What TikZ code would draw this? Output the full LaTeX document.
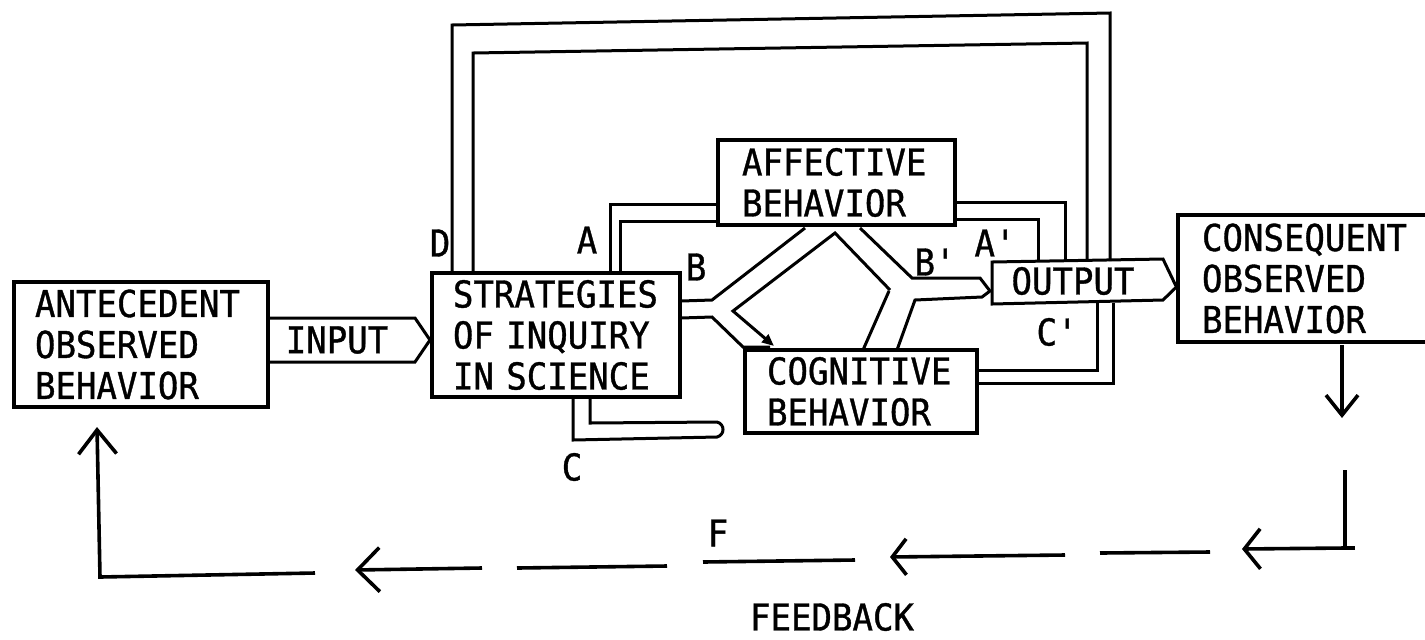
\documentclass[tikz,border=0pt]{standalone}
\usepackage{fontspec}
\setmonofont[FakeStretch=0.92,FakeBold=1]{DejaVu Sans Mono}
\usetikzlibrary{arrows.meta}
\newcommand{\twfont}{\ttfamily\fontsize{18.5pt}{20.5pt}\selectfont}
\tikzset{
  box/.style={draw, line width=1.6pt, rectangle, align=left, font=\twfont, inner ysep=0pt},
  lbl/.style={font=\twfont, inner sep=0pt},
  ln/.style={line width=1.5pt, line join=miter},
  fb/.style={line width=1.8pt}
}
\begin{document}
\begin{tikzpicture}[x=0.5pt,y=-0.5pt]
\useasboundingbox (0,0) rectangle (1425,639);
\clip (0,0) rectangle (1425,639);

% boxes
\node[box, minimum height=62.5pt, text width=106pt, inner xsep=10.5pt] (ant) at (141,344.5) {ANTECEDENT\\OBSERVED\\BEHAVIOR};
\node[box, minimum height=62pt, text width=103pt, inner xsep=10.5pt] (strat) at (556,335) {STRATEGIES\\OF INQUIRY\\IN SCIENCE};
\node[box, minimum height=42.5pt, text width=94.5pt, inner xsep=12pt] (aff) at (836.5,182.5) {AFFECTIVE\\BEHAVIOR};
\node[box, minimum height=41.5pt, text width=94pt, inner xsep=11pt] (cog) at (861,391.5) {COGNITIVE\\BEHAVIOR};
\node[box, minimum height=63.5pt, text width=112pt, inner xsep=12pt] (cons) at (1314,278.5) {CONSEQUENT\\OBSERVED\\BEHAVIOR};

% INPUT arrow
\draw[ln] (ant.east |- 0,318) -- (415,318) -- (430,340) -- (415,362) -- (ant.east |- 0,362);
\node[lbl] (input) at (337,340) {INPUT};

% OUTPUT arrow
\draw[ln] (992,262) -- (1163,259) -- (cons.west |- 0,287) -- (1163,300) -- (992,304) -- cycle;
\node[lbl] (output) at (1073,281) {OUTPUT};

% D loop
\draw[ln] (452,273) -- (452,25) -- (1110,13) -- (1110,261);
\draw[ln] (473,273) -- (473,53) -- (1087,43) -- (1087,261);
\node[lbl] (lD) at (440,243) {D};

% A and A'
\draw[ln] (610,273) -- (610,204) -- (aff.west |- 0,204);
\draw[ln] (620,273) -- (620,221) -- (aff.west |- 0,221);
\node[lbl] (lA) at (587,240) {A};
\draw[ln] (956,202) -- (1065,202) -- (1065,261);
\draw[ln] (956,219) -- (1038,219) -- (1038,261);
\node[lbl] (lAp) at (995,243) {A'};

% B and B'
\draw[ln] (681,301) -- (712,300) -- (805,228);
\draw[ln] (681,318) -- (712,317) -- (743,347) -- (770,347);
\draw[ln, {Triangle[length=6pt,width=5pt]}-] (774,346) -- (733,311) -- (835,233) -- (890,290);
\draw[ln] (863,350) -- (889,291);
\draw[ln] (860,228) -- (912,278) -- (980,278) -- (990,291) -- (982,297) -- (915,300) -- (897,350);
\node[lbl] (lB) at (696,267) {B};
\node[lbl] (lBp) at (935,262) {B'};

% C and C'
\draw[ln] (573,397) -- (573,440) -- (717,437) .. controls (725,435) and (725,424) .. (717,422) -- (590,423) -- (590,397);
\node[lbl] (lC) at (572,467) {C};
\draw[ln] (978,370) -- (1097,370) -- (1097,303);
\draw[ln] (978,383) -- (1113,383) -- (1113,303);
\node[lbl] (lCp) at (1057,332) {C'};

% consequent down arrow
\draw[fb, -{Straight Barb[length=10pt,width=16pt]}] (1342,345) -- (1342,418);

% feedback
\draw[fb] (1355,548) -- (1345,548);
\draw[fb, -{Straight Barb[length=8pt,width=20pt]}] (1345,470) -- (1345,548) -- (1242,549);
\draw[fb] (1210,552) -- (1100,553);
\draw[fb, -{Straight Barb[length=7pt,width=18pt]}] (1065,555) -- (890,557);
\draw[fb] (855,560) -- (703,562);
\draw[fb] (667,566) -- (517,568);
\draw[fb, -{Straight Barb[length=11pt,width=22pt]}] (482,568) -- (355,570);
\draw[fb, -{Straight Barb[length=12pt,width=19pt]}] (315,573) -- (100,577) -- (97,427);
\node[lbl] (lF) at (718,533) {F};
\node[lbl] (lfb) at (832,617) {FEEDBACK};
\end{tikzpicture}
\end{document}
